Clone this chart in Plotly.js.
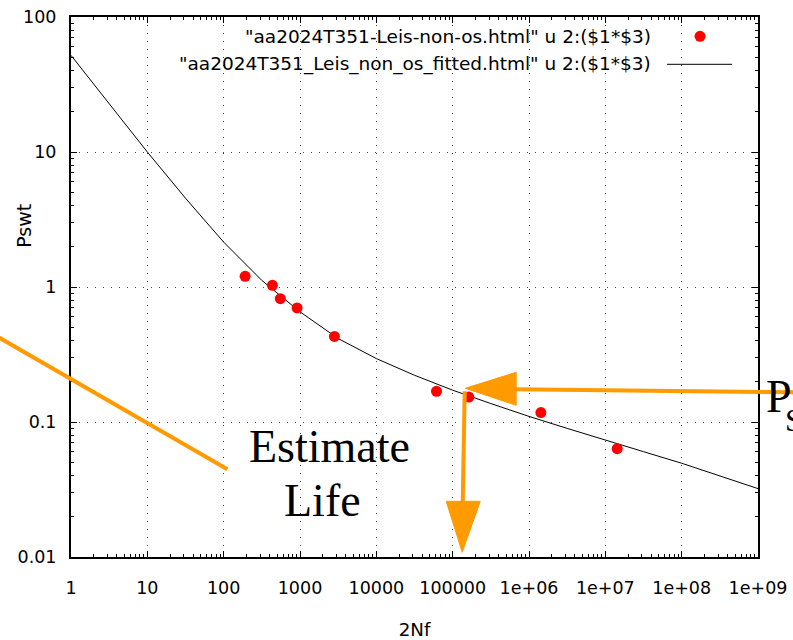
<!DOCTYPE html>
<html>
<head>
<meta charset="utf-8">
<script src="https://cdn.plot.ly/plotly-3.0.1.min.js"></script>
<style>
  html, body { margin: 0; padding: 0; background: #fff; }
  #chart { width: 793px; height: 640px; }
</style>
</head>
<body>
<div id="chart"></div>
<script>
// Measured fatigue points: reversals to failure (2Nf) and SWT parameter
const nfPoints = [191, 435, 553, 916, 2825, 61400, 163000, 1430000, 14300000];
const pswtPoints = [1.20, 1.03, 0.82, 0.70, 0.43, 0.169, 0.153, 0.1175, 0.0635];

// Fitted SWT life curve
const nfFit = [1, 3.16, 10, 31.6, 100, 316, 1000, 3160, 10000, 31600, 100000,
               316000, 1e6, 3.16e6, 1e7, 3.16e7, 1e8, 3.16e8, 1e9];
const pswtFit = [52, 22.8, 10, 4.55, 2.15, 1.12, 0.655, 0.415, 0.295, 0.222, 0.172,
                 0.137, 0.110, 0.0897, 0.0731, 0.0603, 0.0495, 0.0398, 0.0321];

// Axis ticks
const xTickVals = [1, 10, 100, 1000, 10000, 100000, 1e6, 1e7, 1e8, 1e9];
const xTickText = ["1", "10", "100", "1000", "10000", "100000", "1e+06", "1e+07", "1e+08", "1e+09"];
const yTickVals = [0.01, 0.1, 1, 10, 100];
const yTickText = ["0.01", "0.1", "1", "10", "100"];

// Legend labels
const seriesNames = [
  '"aa2024T351-Leis-non-os.html" u 2:($1*$3)',
  '"aa2024T351_Leis_non_os_fitted.html" u 2:($1*$3)'
];

// minor tick positions 2..9 within each decade of a tick list
function minorTicks(decades) {
  const out = [];
  decades.forEach(d => { for (let k = 2; k <= 9; k++) out.push(d * k); });
  return out;
}

const W = 793, H = 640;
const M = { l: 70.5, r: 35, t: 16.7, b: 83.3 };
const PW = W - M.l - M.r, PH = H - M.t - M.b;
// pixel -> paper coordinates for the overlay drawing
const px = x => (x - M.l) / PW;
const py = y => (H - M.b - y) / PH;

const ORANGE = "#ff9a00";
const SANS = "DejaVu Sans, sans-serif";
const SERIF = "Liberation Serif, DejaVu Serif, serif";

const traces = [
  {
    x: nfFit, y: pswtFit, type: "scatter", mode: "lines",
    name: seriesNames[1], line: { color: "#000", width: 1 },
    showlegend: false, hoverinfo: "skip"
  },
  {
    x: nfPoints, y: pswtPoints, type: "scatter", mode: "markers",
    name: seriesNames[0], marker: { color: "#ff0000", size: 11 },
    showlegend: false
  }
];

const axisCommon = {
  type: "log",
  showline: true, linecolor: "#000", linewidth: 2, mirror: "allticks",
  ticks: "inside", ticklen: 6, tickcolor: "#000", tickwidth: 1,
  showgrid: true, gridcolor: "#444", gridwidth: 1, griddash: "1px,7px",
  zeroline: false,
  tickfont: { family: SANS, size: 17.5, color: "#000" }
};

const shapes = [
  // slanted orange line on the left
  { type: "line", xref: "paper", yref: "paper",
    x0: px(-2), y0: py(337), x1: px(227), y1: py(469),
    line: { color: ORANGE, width: 4 } },
  // horizontal arrow shaft
  { type: "line", xref: "paper", yref: "paper",
    x0: px(800), y0: py(392), x1: px(514), y1: py(389),
    line: { color: ORANGE, width: 4 } },
  // horizontal arrow head
  { type: "path", xref: "paper", yref: "paper",
    path: `M ${px(465)} ${py(388)} L ${px(516)} ${py(372)} L ${px(516)} ${py(405)} Z`,
    fillcolor: ORANGE, line: { color: ORANGE, width: 1 } },
  // vertical arrow shaft
  { type: "line", xref: "paper", yref: "paper",
    x0: px(464.5), y0: py(391), x1: px(462.5), y1: py(503),
    line: { color: ORANGE, width: 4 } },
  // vertical arrow head
  { type: "path", xref: "paper", yref: "paper",
    path: `M ${px(446)} ${py(501)} L ${px(480)} ${py(501)} L ${px(462)} ${py(552)} Z`,
    fillcolor: ORANGE, line: { color: ORANGE, width: 1 } },
  // legend sample: marker
  { type: "circle", xref: "paper", yref: "paper",
    x0: px(694.5), y0: py(30.5), x1: px(705.5), y1: py(41.5),
    fillcolor: "#ff0000", line: { color: "#ff0000", width: 0 } },
  // legend sample: line
  { type: "line", xref: "paper", yref: "paper",
    x0: px(667), y0: py(64), x1: px(732), y1: py(64),
    line: { color: "#000", width: 1 } }
];

const annotations = [
  { text: seriesNames[0], xref: "paper", yref: "paper", x: px(653), y: py(36),
    xanchor: "right", yanchor: "middle", showarrow: false,
    font: { family: SANS, size: 18.5, color: "#000" } },
  { text: seriesNames[1], xref: "paper", yref: "paper", x: px(653), y: py(64),
    xanchor: "right", yanchor: "middle", showarrow: false,
    font: { family: SANS, size: 18.5, color: "#000" } },
  // y axis label, placed where the plot shows it
  { text: "Pswt", xref: "paper", yref: "paper", x: px(24), y: py(226),
    xanchor: "center", yanchor: "middle", textangle: -90, showarrow: false,
    font: { family: SANS, size: 19, color: "#000" } },
  { text: "Estimate", xref: "paper", yref: "paper", x: px(329), y: py(446),
    xanchor: "center", yanchor: "middle", showarrow: false,
    font: { family: SERIF, size: 46, color: "#000" } },
  { text: "Life", xref: "paper", yref: "paper", x: px(322), y: py(500),
    xanchor: "center", yanchor: "middle", showarrow: false,
    font: { family: SERIF, size: 46, color: "#000" } },
  // P with its subscript set tight against it
  { text: "P", xref: "paper", yref: "paper", x: px(764), y: py(396),
    xanchor: "left", yanchor: "middle", showarrow: false,
    font: { family: SERIF, size: 46, color: "#000" } },
  { text: "SWT", xref: "paper", yref: "paper", x: px(783), y: py(420),
    xanchor: "left", yanchor: "middle", showarrow: false,
    font: { family: SERIF, size: 32, color: "#000" } }
];

const layout = {
  width: W, height: H,
  margin: { l: M.l, r: M.r, t: M.t, b: M.b, pad: 0 },
  paper_bgcolor: "#fff", plot_bgcolor: "#fff",
  showlegend: false,
  xaxis: Object.assign({}, axisCommon, {
    range: [0, 9], tickvals: xTickVals, ticktext: xTickText,
    ticklabelstandoff: 14,
    minor: { tickmode: "array", tickvals: minorTicks(xTickVals.slice(0, -1)),
             ticks: "inside", ticklen: 3, tickcolor: "#000", showgrid: false },
    title: { text: "2Nf", font: { family: SANS, size: 18.3, color: "#000" }, standoff: 26 }
  }),
  yaxis: Object.assign({}, axisCommon, {
    range: [-2, 2], tickvals: yTickVals, ticktext: yTickText,
    ticklabelstandoff: 9,
    minor: { tickmode: "array", tickvals: minorTicks(yTickVals.slice(0, -1)),
             ticks: "inside", ticklen: 3, tickcolor: "#000", showgrid: false }
  }),
  shapes: shapes,
  annotations: annotations
};

Plotly.newPlot("chart", traces, layout, { staticPlot: true, displayModeBar: false });
</script>
</body>
</html>
